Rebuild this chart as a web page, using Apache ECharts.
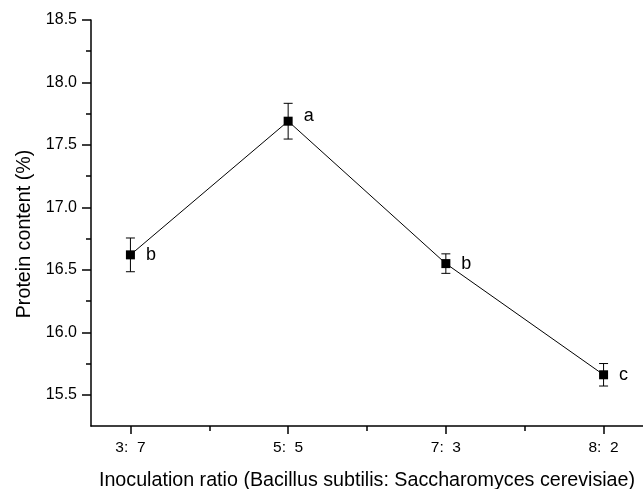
<!DOCTYPE html>
<html>
<head>
<meta charset="utf-8">
<script src="https://cdn.jsdelivr.net/npm/echarts@6/dist/echarts.min.js"></script>
<style>
html,body{margin:0;padding:0;background:#fff;}
#chart{width:643px;height:489px;}
</style>
</head>
<body>
<div id="chart"></div>
<script>
// ---- data ----
const categories = ['3:  7', '5:  5', '7:  3', '8:  2'];
const positions = [1, 2, 3, 4];
const proteinValues = [16.62, 17.69, 16.55, 15.66];
const proteinErrors = [0.135, 0.143, 0.078, 0.09];
const sigLetters = ['b', 'a', 'b', 'c'];
const yMajorTicks = [15.5, 16.0, 16.5, 17.0, 17.5, 18.0, 18.5];
const yMinorTicks = [15.75, 16.25, 16.75, 17.25, 17.75, 18.25];
const xMinorTicks = [1.5, 2.5, 3.5];
const xTitle = 'Inoculation ratio (Bacillus subtilis: Saccharomyces cerevisiae)';
const yTitle = 'Protein content (%)';

const FONT = '"Liberation Sans", Arial, sans-serif';

const lineData = positions.map((p, i) => [p, proteinValues[i]]);
const errData = positions.map((p, i) => [p, proteinValues[i] - proteinErrors[i], proteinValues[i] + proteinErrors[i]]);

const chart = echarts.init(document.getElementById('chart'));
const common = { min: 0.75, max: 4.25 };
const yCommon = { min: 15.25, max: 18.5 };

chart.setOption({
  animation: false,
  backgroundColor: '#fff',
  grid: { left: 91, right: 0, top: 20, bottom: 63, containLabel: false, outerBoundsMode: 'none' },
  xAxis: [
    Object.assign({
      type: 'value',
      splitLine: { show: false },
      axisLine: { onZero: false, lineStyle: { color: '#000', width: 1.5 } },
      axisTick: { customValues: positions, length: 8, lineStyle: { color: '#000', width: 1.5 } },
      axisLabel: {
        customValues: positions,
        formatter: v => categories[positions.indexOf(v)] || '',
        color: '#000', fontSize: 15.5, fontFamily: FONT, margin: 14
      },
      name: xTitle, nameLocation: 'middle', nameGap: 45,
      nameTextStyle: { color: '#000', fontSize: 19.7, fontFamily: FONT }
    }, common),
    Object.assign({
      type: 'value', position: 'bottom',
      splitLine: { show: false },
      axisLine: { show: false, onZero: false },
      axisTick: { customValues: xMinorTicks, length: 5, lineStyle: { color: '#000', width: 1.5 } },
      axisLabel: { show: false }
    }, common)
  ],
  yAxis: [
    Object.assign({
      type: 'value',
      splitLine: { show: false },
      axisLine: { show: true, onZero: false, lineStyle: { color: '#000', width: 1.5 } },
      axisTick: { show: true, customValues: yMajorTicks, length: 9, lineStyle: { color: '#000', width: 1.5 } },
      axisLabel: {
        customValues: yMajorTicks,
        formatter: v => v.toFixed(1),
        color: '#000', fontSize: 16, fontFamily: FONT, margin: 14
      },
      name: yTitle, nameLocation: 'middle', nameGap: 53,
      nameTextStyle: { color: '#000', fontSize: 19.7, fontFamily: FONT, padding: [0, 22, 0, 0] }
    }, yCommon),
    Object.assign({
      type: 'value', position: 'left',
      splitLine: { show: false },
      axisLine: { show: false, onZero: false },
      axisTick: { show: true, customValues: yMinorTicks, length: 5, lineStyle: { color: '#000', width: 1.5 } },
      axisLabel: { show: false }
    }, yCommon)
  ],
  series: [
    {
      type: 'custom',
      xAxisIndex: 0, yAxisIndex: 0,
      data: errData,
      z: 2,
      renderItem: function (params, api) {
        const x = api.value(0);
        const lo = api.coord([x, api.value(1)]);
        const hi = api.coord([x, api.value(2)]);
        const cap = 4.5;
        const style = { stroke: '#000', lineWidth: 1 };
        return {
          type: 'group',
          children: [
            { type: 'line', shape: { x1: lo[0], y1: lo[1], x2: hi[0], y2: hi[1] }, style: style },
            { type: 'line', shape: { x1: hi[0] - cap, y1: hi[1], x2: hi[0] + cap, y2: hi[1] }, style: style },
            { type: 'line', shape: { x1: lo[0] - cap, y1: lo[1], x2: lo[0] + cap, y2: lo[1] }, style: style }
          ]
        };
      }
    },
    {
      type: 'line',
      xAxisIndex: 0, yAxisIndex: 0,
      z: 3,
      data: lineData.map((d, i) => ({
        value: d,
        label: i === 1 ? { offset: [0, -5] } : {}
      })),
      symbol: 'rect',
      symbolSize: 9,
      itemStyle: { color: '#000' },
      lineStyle: { color: '#000', width: 1 },
      label: {
        show: true,
        position: 'right',
        distance: 11,
        formatter: p => sigLetters[p.dataIndex],
        color: '#000', fontSize: 18, fontFamily: FONT
      }
    }
  ]
});
</script>
</body>
</html>
